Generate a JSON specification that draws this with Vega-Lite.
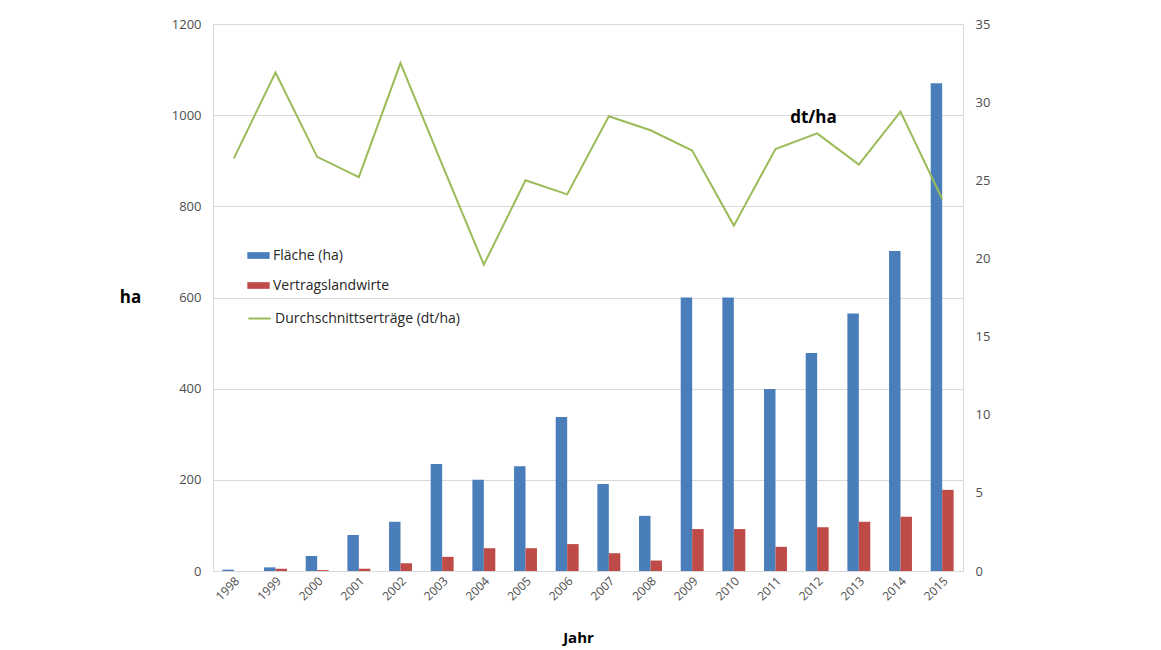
{
  "$schema": "https://vega.github.io/schema/vega-lite/v6.json",
  "width": 750,
  "height": 547,
  "autosize": "none",
  "padding": {"left": 213, "top": 24, "right": 198, "bottom": 79},
  "background": "white",
  "config": {
    "font": "Open Sans",
    "view": {"stroke": null},
    "axis": {"labelColor": "#4d4d4d", "domainColor": "#d9d9d9", "ticks": false, "titleColor": "#000000", "titleFontWeight": "bold"}
  },
  "data": {
    "values": [
      {"Jahr": "1998", "Fläche (ha)": 3, "Vertragslandwirte": 0, "Ertrag": 26.4},
      {"Jahr": "1999", "Fläche (ha)": 8, "Vertragslandwirte": 5, "Ertrag": 31.9},
      {"Jahr": "2000", "Fläche (ha)": 33, "Vertragslandwirte": 2, "Ertrag": 26.5},
      {"Jahr": "2001", "Fläche (ha)": 79, "Vertragslandwirte": 5, "Ertrag": 25.2},
      {"Jahr": "2002", "Fläche (ha)": 108, "Vertragslandwirte": 17, "Ertrag": 32.5},
      {"Jahr": "2003", "Fläche (ha)": 235, "Vertragslandwirte": 31, "Ertrag": 26.0},
      {"Jahr": "2004", "Fläche (ha)": 200, "Vertragslandwirte": 50, "Ertrag": 19.6},
      {"Jahr": "2005", "Fläche (ha)": 230, "Vertragslandwirte": 50, "Ertrag": 25.0},
      {"Jahr": "2006", "Fläche (ha)": 338, "Vertragslandwirte": 59, "Ertrag": 24.1},
      {"Jahr": "2007", "Fläche (ha)": 191, "Vertragslandwirte": 39, "Ertrag": 29.1},
      {"Jahr": "2008", "Fläche (ha)": 121, "Vertragslandwirte": 23, "Ertrag": 28.2},
      {"Jahr": "2009", "Fläche (ha)": 600, "Vertragslandwirte": 92, "Ertrag": 26.9},
      {"Jahr": "2010", "Fläche (ha)": 600, "Vertragslandwirte": 92, "Ertrag": 22.1},
      {"Jahr": "2011", "Fläche (ha)": 399, "Vertragslandwirte": 53, "Ertrag": 27.0},
      {"Jahr": "2012", "Fläche (ha)": 478, "Vertragslandwirte": 96, "Ertrag": 28.0},
      {"Jahr": "2013", "Fläche (ha)": 565, "Vertragslandwirte": 108, "Ertrag": 26.0},
      {"Jahr": "2014", "Fläche (ha)": 702, "Vertragslandwirte": 119, "Ertrag": 29.4},
      {"Jahr": "2015", "Fläche (ha)": 1070, "Vertragslandwirte": 178, "Ertrag": 23.8}
    ]
  },
  "layer": [
    {
      "transform": [{"fold": ["Fläche (ha)", "Vertragslandwirte"], "as": ["Serie", "Wert"]}],
      "mark": {"type": "bar"},
      "encoding": {
        "x": {
          "field": "Jahr", "type": "ordinal",
          "scale": {"paddingInner": 0.45, "paddingOuter": 0.225},
          "axis": {"labelAngle": -45, "labelFontSize": 12, "labelPadding": 4, "title": "Jahr", "titleFontSize": 15, "titleX": 365, "titleY": 66, "titleBaseline": "middle", "titleAlign": "center"}
        },
        "xOffset": {"field": "Serie", "sort": ["Fläche (ha)", "Vertragslandwirte"]},
        "y": {
          "field": "Wert", "type": "quantitative",
          "scale": {"domain": [0, 1200]},
          "axis": {"orient": "left", "values": [0, 200, 400, 600, 800, 1000, 1200], "format": "d", "grid": true, "gridColor": "#d9d9d9", "labelFontSize": 13, "labelPadding": 12, "title": "ha", "titleAngle": 0, "titleFontSize": 17, "titleX": -83, "titleY": 273, "titleAlign": "center", "titleBaseline": "middle"}
        },
        "fill": {
          "field": "Serie", "type": "nominal",
          "scale": {"domain": ["Fläche (ha)", "Vertragslandwirte"], "range": ["#4a7ebb", "#be4b48"]},
          "legend": {"title": null, "orient": "none", "legendX": 34, "legendY": 220, "symbolType": "M-1,-0.3L1,-0.3L1,0.3L-1,0.3Z", "symbolSize": 500, "symbolStrokeWidth": 0, "labelFontSize": 14, "labelColor": "#262626", "labelOffset": 3, "labelLimit": 0, "rowPadding": 11}
        }
      }
    },
    {
      "mark": {"type": "line", "strokeWidth": 2},
      "encoding": {
        "x": {"field": "Jahr", "type": "ordinal"},
        "y": {
          "field": "Ertrag", "type": "quantitative",
          "scale": {"domain": [0, 35]},
          "axis": {"orient": "right", "values": [0, 5, 10, 15, 20, 25, 30, 35], "grid": false, "labelFontSize": 13, "labelPadding": 12, "title": "dt/ha", "titleAngle": 0, "titleFontSize": 17, "titleX": -150, "titleY": 93, "titleAlign": "center", "titleBaseline": "middle"}
        },
        "stroke": {
          "datum": "Durchschnittserträge (dt/ha)",
          "scale": {"range": ["#9bbb59"]},
          "legend": {"title": null, "orient": "none", "legendX": 34, "legendY": 282, "symbolType": "stroke", "symbolSize": 500, "symbolStrokeWidth": 2, "labelFontSize": 14, "labelColor": "#262626", "labelOffset": 3, "labelLimit": 0}
        }
      }
    }
  ],
  "resolve": {"scale": {"y": "independent"}}
}
